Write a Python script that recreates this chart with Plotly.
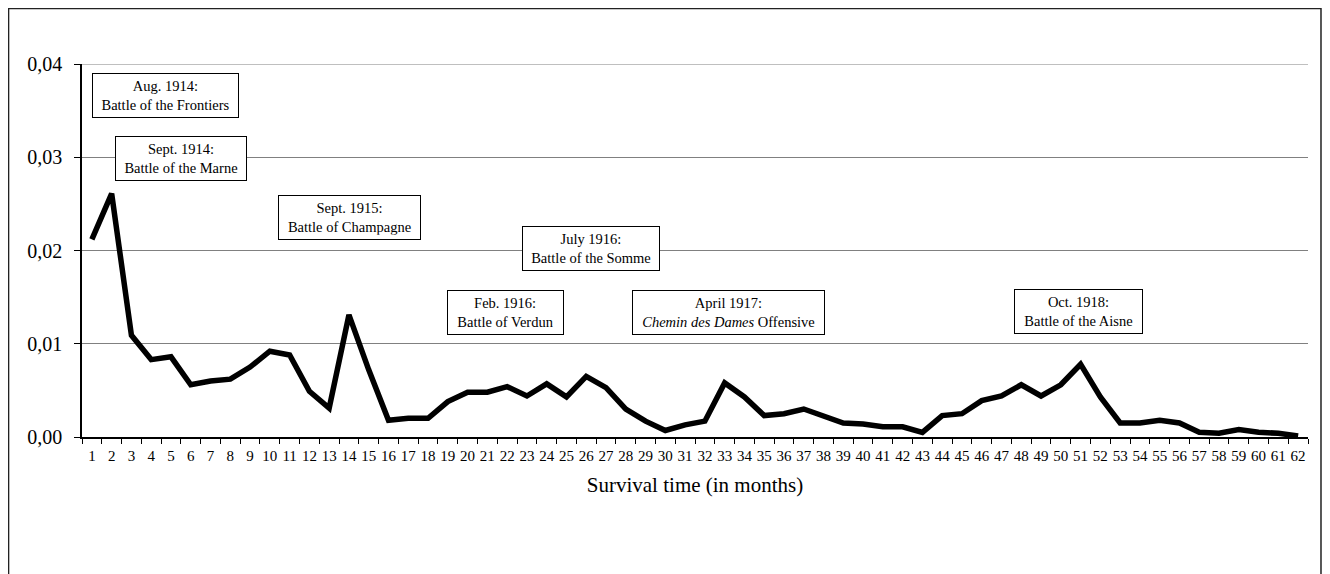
import plotly.graph_objects as go

months = list(range(1, 63))
hazard = [0.0212, 0.0261, 0.0109, 0.0083, 0.0086, 0.0056, 0.0060, 0.0062, 0.0075, 0.0092,
          0.0088, 0.0049, 0.0031, 0.0131, 0.0072, 0.0018, 0.0020, 0.0020, 0.0038, 0.0048,
          0.0048, 0.0054, 0.0044, 0.0057, 0.0043, 0.0065, 0.0053, 0.0030, 0.0017, 0.0007,
          0.0013, 0.0017, 0.0058, 0.0043, 0.0023, 0.0025, 0.0030, 0.0023, 0.0015, 0.0014,
          0.0011, 0.0011, 0.0005, 0.0023, 0.0025, 0.0039, 0.0044, 0.0056, 0.0044, 0.0056,
          0.0078, 0.0043, 0.0015, 0.0015, 0.0018, 0.0015, 0.0005, 0.0004, 0.0008, 0.0005,
          0.0004, 0.0001]

y_ticks = [0.0, 0.01, 0.02, 0.03, 0.04]

events = [
    "Aug. 1914:<br>Battle of the Frontiers",
    "Sept. 1914:<br>Battle of the Marne",
    "Sept. 1915:<br>Battle of Champagne",
    "July 1916:<br>Battle of the Somme",
    "Feb. 1916:<br>Battle of Verdun",
    "April 1917:<br><i>Chemin des Dames</i> Offensive",
    "Oct. 1918:<br>Battle of the Aisne",
]
event_x = [4.70, 5.51, 14.05, 26.24, 21.94, 33.17, 50.87]
event_y = [0.0366, 0.0299, 0.0235, 0.0202, 0.0134, 0.0134, 0.0135]
event_w = [137, 122, 133, 128, 107, 183, 119]

FONT = "Liberation Serif, Times New Roman, serif"

fig = go.Figure()
fig.add_trace(go.Scatter(x=months, y=hazard, mode="lines",
                         line=dict(color="black", width=5.5), showlegend=False,
                         hoverinfo="skip"))

for t, x, y, w in zip(events, event_x, event_y, event_w):
    fig.add_annotation(x=x, y=y, text=t, showarrow=False, xref="x", yref="y",
                       font=dict(family=FONT, size=14.5, color="black"),
                       bordercolor="black", borderwidth=1, borderpad=4,
                       bgcolor="white", width=w, align="center")

# top gridline (at the edge of the value range)
fig.add_shape(type="line", xref="paper", yref="y", x0=0, x1=1,
              y0=y_ticks[-1], y1=y_ticks[-1],
              line=dict(color="#808080", width=1), layer="below")

# outer chart border
fig.add_shape(type="rect", xref="paper", yref="paper",
              x0=-0.0599, x1=1.0106, y0=-0.45, y1=1.1488,
              line=dict(color="#222222", width=1.5), layer="below")

fig.update_layout(
    width=1330, height=574,
    margin=dict(l=74, r=30, t=56, b=145),
    paper_bgcolor="white", plot_bgcolor="white",
    separators=", ",
    font=dict(family=FONT, color="black"),
    xaxis=dict(range=[0.5, 62.5], tickmode="array", tickvals=months,
               ticktext=[str(m) for m in months], ticks="",
               tickfont=dict(family=FONT, size=15, color="black"),
               showgrid=False, zeroline=False, showline=True,
               linecolor="black", linewidth=1.5,
               minor=dict(ticks="outside", tick0=0.5, dtick=1, ticklen=5,
                          tickcolor="black", tickwidth=1, showgrid=False),
               ticklabelstandoff=4,
               title=dict(text="Survival time (in months)", standoff=15,
                          font=dict(family=FONT, size=21, color="black"))),
    yaxis=dict(range=[0, 0.04], tickmode="array", tickvals=y_ticks,
               tickformat=".2f", ticks="outside", ticklen=6,
               tickcolor="black", tickwidth=1,
               tickfont=dict(family=FONT, size=20, color="black"),
               showgrid=True, gridcolor="#808080", gridwidth=1,
               zeroline=False, showline=True, linecolor="black", linewidth=1.5,
               ticklabelstandoff=8),
)

fig.write_html("out.html")
